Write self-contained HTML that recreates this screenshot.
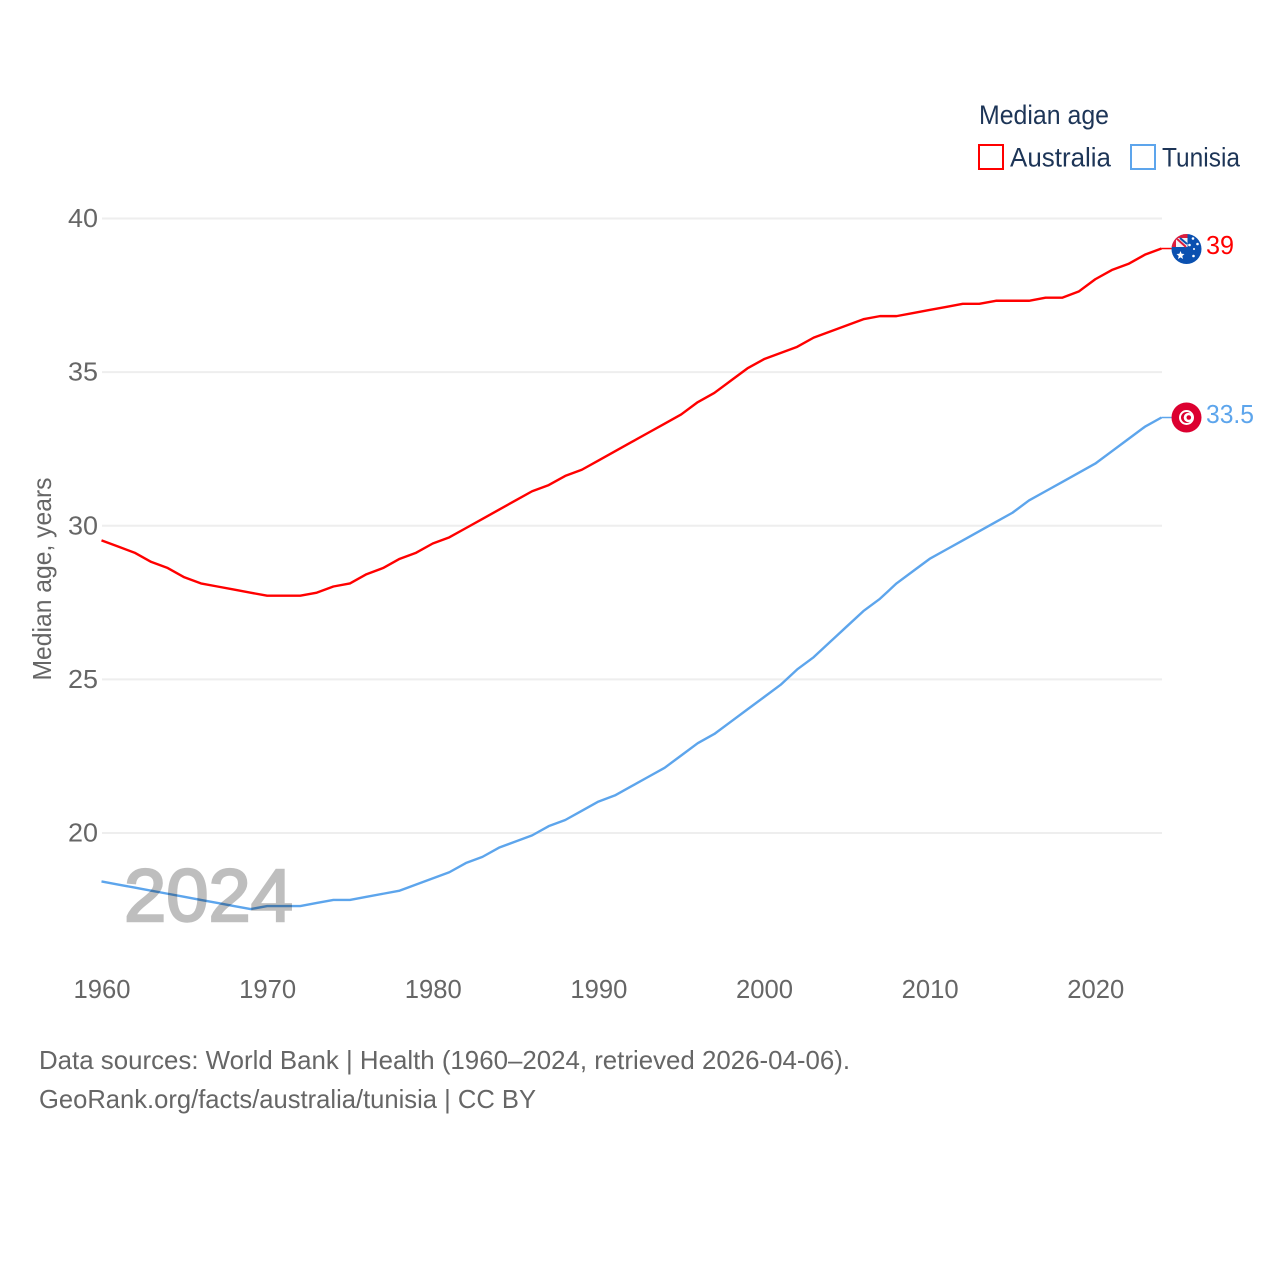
<!DOCTYPE html>
<html lang="en">
<head>
<meta charset="utf-8">
<title>Median age: Australia and Tunisia</title>
<style>
  html, body { margin: 0; padding: 0; background: #fff; }
  svg { display: block; }
  text { font-family: "Liberation Sans", sans-serif; }
</style>
</head>
<body>
<svg id="chart" xmlns="http://www.w3.org/2000/svg" width="1280" height="1280" viewBox="0 0 1280 1280">
  <rect width="1280" height="1280" fill="#fff"/>
  <g id="grid"></g>
  <g id="yticks"></g>
  <g id="xticks"></g>
  <text transform="translate(51 579) rotate(-90)" text-anchor="middle" font-size="26" fill="#666666" textLength="203" lengthAdjust="spacingAndGlyphs">Median age, years</text>
  <g id="series" transform="translate(-0.5 -0.7)"></g>
  <text x="124" y="921" font-size="74" fill="#000" stroke="#000" stroke-width="2.4" opacity="0.25" textLength="169" lengthAdjust="spacingAndGlyphs">2024</text>

  <g>
    <text x="979" y="124" font-size="27" fill="#1d3557" textLength="130" lengthAdjust="spacingAndGlyphs">Median age</text>
    <g>
      <rect x="979" y="145" width="24" height="24" fill="#fff" stroke="#ff0000" stroke-width="2"/>
      <text x="1010" y="166.5" font-size="27" fill="#1d3557" textLength="101" lengthAdjust="spacingAndGlyphs">Australia</text>
    </g>
    <g>
      <rect x="1131" y="145" width="24" height="24" fill="#fff" stroke="#5da5ec" stroke-width="2"/>
      <text x="1162" y="166.5" font-size="27" fill="#1d3557" textLength="78" lengthAdjust="spacingAndGlyphs">Tunisia</text>
    </g>
  </g>

  <defs>
    <clipPath id="au-clip"><circle cx="1186.5" cy="249" r="15"/></clipPath>
  </defs>
  <g id="flag-au" clip-path="url(#au-clip)">
    <rect x="1171" y="233" width="31" height="32" fill="#0a50b0"/>
    <rect x="1171" y="233" width="16.5" height="14" fill="#f2f2f6"/>
    <rect x="1171" y="233" width="16.5" height="5" fill="#dc1c3c"/>
    <rect x="1171" y="233" width="5" height="14" fill="#dc1c3c"/>
    <path d="M1176 238 L1186 247" stroke="#dc1c3c" stroke-width="2"/>
    <path d="M1180 238 L1187 244" stroke="#0a50b0" stroke-width="2"/>
    <polygon points="1180.5,251 1181.6,253.8 1184.5,254 1182.3,256 1183,259 1180.5,257.4 1178,259 1178.7,256 1176.5,254 1179.4,253.8" fill="#fff"/>
    <circle cx="1193" cy="238.5" r="1.3" fill="#fff"/>
    <circle cx="1189.5" cy="245" r="1.3" fill="#fff"/>
    <circle cx="1197.5" cy="244" r="1.3" fill="#fff"/>
    <circle cx="1194" cy="249" r="1" fill="#fff"/>
    <circle cx="1193.5" cy="256" r="1.3" fill="#fff"/>
  </g>
  <g id="flag-tn">
    <circle cx="1186.5" cy="417.5" r="15" fill="#dc0030"/>
    <circle cx="1186.5" cy="417.5" r="7.5" fill="#fff"/>
    <circle cx="1186.5" cy="417.5" r="5.5" fill="#dc0030"/>
    <circle cx="1188.3" cy="417.5" r="4.6" fill="#fff"/>
    <circle cx="1188.8" cy="417.5" r="2.3" fill="#dc0030"/>
  </g>

  <g>
    <text x="39" y="1069" font-size="26" fill="#666666" textLength="811" lengthAdjust="spacingAndGlyphs">Data sources: World Bank | Health (1960–2024, retrieved 2026-04-06).</text>
    <text x="39" y="1108" font-size="26" fill="#666666" textLength="497" lengthAdjust="spacingAndGlyphs">GeoRank.org/facts/australia/tunisia | CC BY</text>
  </g>
</svg>
<script>
const years = [1960,1961,1962,1963,1964,1965,1966,1967,1968,1969,1970,1971,1972,1973,1974,1975,1976,1977,1978,1979,1980,1981,1982,1983,1984,1985,1986,1987,1988,1989,1990,1991,1992,1993,1994,1995,1996,1997,1998,1999,2000,2001,2002,2003,2004,2005,2006,2007,2008,2009,2010,2011,2012,2013,2014,2015,2016,2017,2018,2019,2020,2021,2022,2023,2024];
const australia = [29.5,29.3,29.1,28.8,28.6,28.3,28.1,28.0,27.9,27.8,27.7,27.7,27.7,27.8,28.0,28.1,28.4,28.6,28.9,29.1,29.4,29.6,29.9,30.2,30.5,30.8,31.1,31.3,31.6,31.8,32.1,32.4,32.7,33.0,33.3,33.6,34.0,34.3,34.7,35.1,35.4,35.6,35.8,36.1,36.3,36.5,36.7,36.8,36.8,36.9,37.0,37.1,37.2,37.2,37.3,37.3,37.3,37.4,37.4,37.6,38.0,38.3,38.5,38.8,39.0];
const tunisia = [18.4,18.3,18.2,18.1,18.0,17.9,17.8,17.7,17.6,17.5,17.6,17.6,17.6,17.7,17.8,17.8,17.9,18.0,18.1,18.3,18.5,18.7,19.0,19.2,19.5,19.7,19.9,20.2,20.4,20.7,21.0,21.2,21.5,21.8,22.1,22.5,22.9,23.2,23.6,24.0,24.4,24.8,25.3,25.7,26.2,26.7,27.2,27.6,28.1,28.5,28.9,29.2,29.5,29.8,30.1,30.4,30.8,31.1,31.4,31.7,32.0,32.4,32.8,33.2,33.5];
const yTickValues = [20,25,30,35,40];
const xTickValues = [1960,1970,1980,1990,2000,2010,2020];

const NS = 'http://www.w3.org/2000/svg';
function xScale(year) { return 102 + (year - 1960) * (1162 - 102) / 64; }
function yScale(v) { return 218.5 + (40 - v) * (833 - 218.5) / 20; }
function make(tag, attrs, parent, txt) {
  const el = document.createElementNS(NS, tag);
  for (const k in attrs) el.setAttribute(k, attrs[k]);
  if (txt !== undefined) el.textContent = txt;
  parent.appendChild(el);
  return el;
}

const grid = document.getElementById('grid');
const yticks = document.getElementById('yticks');
yTickValues.forEach(function (v) {
  const line = make('line', { x1: 102, x2: 1162, y1: yScale(v), y2: yScale(v), stroke: '#eeeeee', 'stroke-width': 2 }, grid);
  
  
  const label = make('text', { x: 68, y: yScale(v) + 8.5, 'font-size': 26, fill: '#666666', textLength: 30, lengthAdjust: 'spacingAndGlyphs' }, yticks, String(v));
  
  
});

const xticks = document.getElementById('xticks');
xTickValues.forEach(function (v) {
  const label = make('text', { x: xScale(v), y: 998, 'text-anchor': 'middle', 'font-size': 26, fill: '#666666', textLength: 57, lengthAdjust: 'spacingAndGlyphs' }, xticks, String(v));
  
  
});

const seriesGroup = document.getElementById('series');
function drawSeries(values, color, key) {
  const pts = values.map(function (v, i) { return xScale(years[i]).toFixed(2) + ',' + yScale(v).toFixed(2); }).join(' ');
  const line = make('polyline', { points: pts, fill: 'none', stroke: color, 'stroke-width': 2.4, 'stroke-linejoin': 'round' }, seriesGroup);
  
  
  const last = values[values.length - 1];
  const lastX = xScale(years[years.length - 1]);
  const connector = make('line', { x1: lastX, x2: lastX + 10, y1: yScale(last), y2: yScale(last), stroke: color, 'stroke-width': 1.5 }, seriesGroup);
  
  
  const label = make('text', { x: 1206.5, y: yScale(last) + 5.5, 'font-size': 26, fill: color, textLength: String(last).length > 2 ? 48 : 28, lengthAdjust: 'spacingAndGlyphs' }, seriesGroup, String(last));
  
  
}
drawSeries(australia, '#ff0000', 'australia');
drawSeries(tunisia, '#5da5ec', 'tunisia');
</script>
</body>
</html>
